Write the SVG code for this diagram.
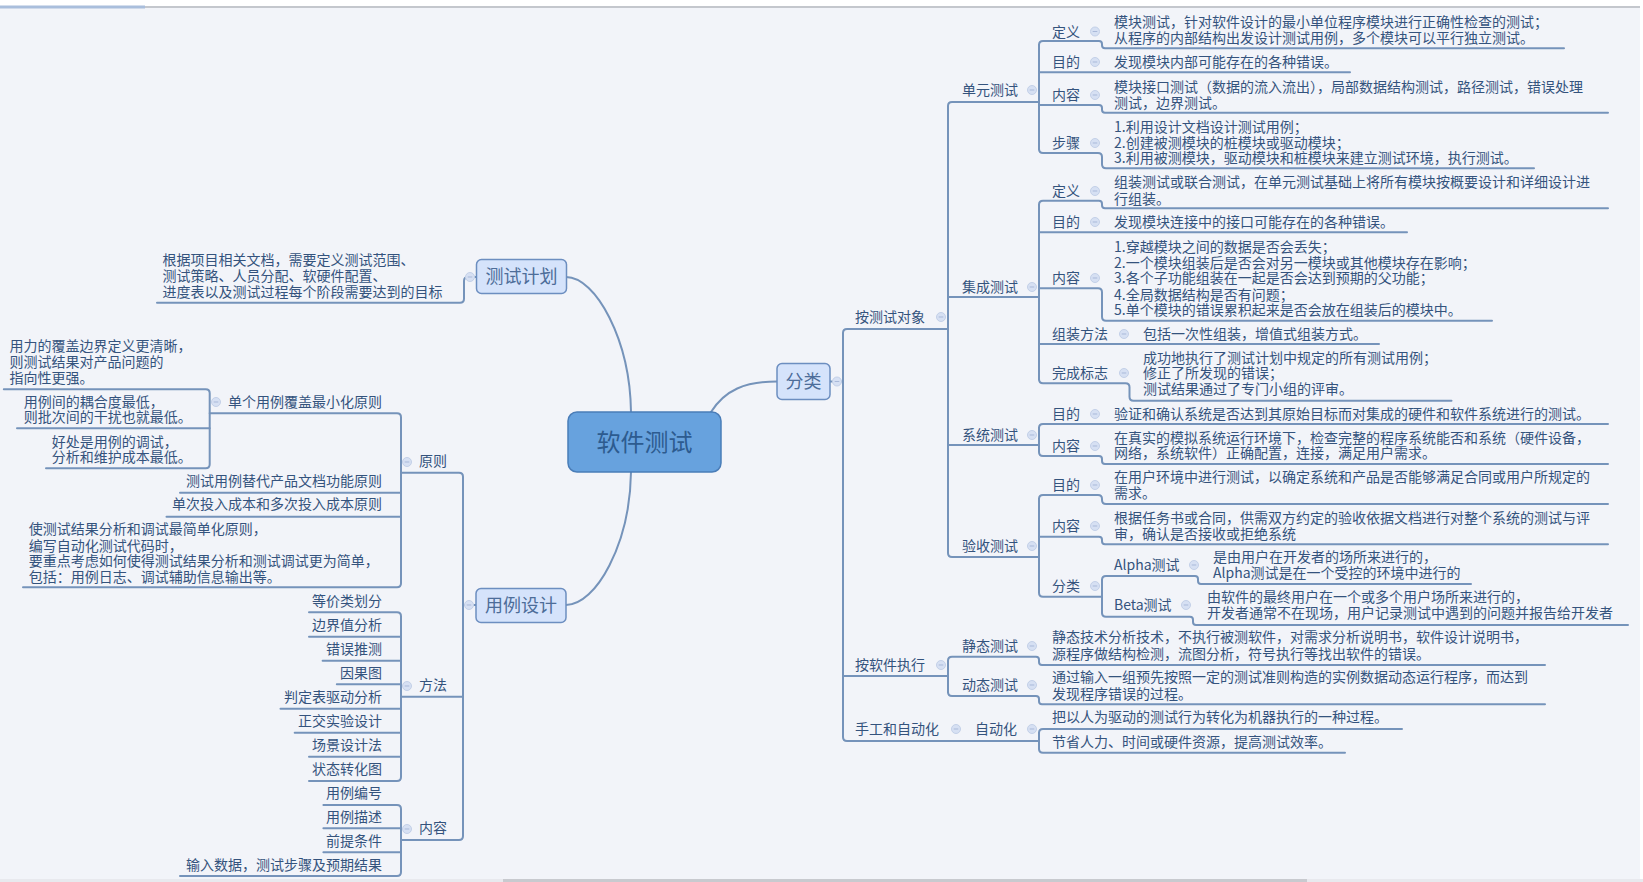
<svg xmlns="http://www.w3.org/2000/svg" width="1643" height="882" viewBox="0 0 1643 882">
<defs>
<style>
.t{font-family:"Noto Sans CJK SC","Liberation Sans",sans-serif;font-size:14px;fill:#34537d;}
.e{text-anchor:end;}
.bt{font-family:"Noto Sans CJK SC","Liberation Sans",sans-serif;font-size:18px;fill:#4d6d99;text-anchor:middle;}
.ln{fill:none;stroke:#7593ba;stroke-width:2;stroke-linecap:round;stroke-linejoin:round;}
.box{fill:#d5e3fb;stroke:#6c8ec0;stroke-width:1.5;}
</style>
<g id="cm"><circle r="4.5" fill="#d6e0f3" stroke="#c3d0e8" stroke-width="1"/><path d="M-2.3,0H2.3" stroke="#a9b9d9" stroke-width="1"/></g>
</defs>
<rect x="0" y="0" width="1643" height="882" fill="#ffffff"/>
<rect x="0" y="8" width="1640" height="871" fill="#f2f4f9"/>
<line x1="145" y1="7" x2="1640" y2="7" stroke="#c4c7cd" stroke-width="2"/>
<line x1="0" y1="7" x2="145" y2="7" stroke="#a9bedc" stroke-width="3"/>
<rect x="0" y="879" width="1643" height="3" fill="#e8e9ee"/>
<rect x="503" y="879" width="804" height="3" fill="#c8cacf"/>

<g id="connectors" class="ln">
<path d="M631,412 C630,340 596,277 566,277"/>
<path d="M631,472 C630,544 596,605 566,605"/>
<path d="M711,412 C725,390 745,381.5 777,381.5"/>
<path d="M830,381.5 H843"/>
<path d="M948,329 H847 Q843,329 843,333 V737 Q843,741 847,741 H1039"/>
<path d="M843,676 H948"/>
<path d="M1039,102 H952 Q948,102 948,106 V553 Q948,557 952,557 H1039"/>
<path d="M948,297 H1039"/>
<path d="M948,445 H1039"/>
<path d="M1039,45 V149"/>
<path d="M1039,45 Q1039,41 1043,41 H1099 Q1102,41 1102,44 V45.3 Q1102,48.3 1105,48.3 H1564"/>
<path d="M1039,72.3 H1350"/>
<path d="M1039,105 H1099 Q1102,105 1102,108 V109.7 Q1102,112.7 1105,112.7 H1608"/>
<path d="M1039,149 Q1039,153 1043,153 H1098 Q1102,153 1102,157 V164.3 Q1102,168.3 1106,168.3 H1534"/>
<path d="M1039,204.7 V379.3"/>
<path d="M1039,204.7 Q1039,200.7 1043,200.7 H1099 Q1102,200.7 1102,203.7 V205.3 Q1102,208.3 1105,208.3 H1608"/>
<path d="M1039,232.3 H1407"/>
<path d="M1039,288.3 H1098 Q1102,288.3 1102,292.3 V316.7 Q1102,320.7 1106,320.7 H1492"/>
<path d="M1039,344 H1379"/>
<path d="M1039,379.3 Q1039,383.3 1043,383.3 H1125.5 Q1129.5,383.3 1129.5,387.3 V396.7 Q1129.5,400.7 1133.5,400.7 H1451.5"/>
<path d="M1039,428 Q1039,424 1043,424 H1608"/>
<path d="M1039,428 V452 Q1039,456 1043,456 H1099 Q1102,456 1102,459 V461 Q1102,464 1105,464 H1608"/>
<path d="M1039,499 Q1039,495 1043,495 H1098 Q1102,495 1102,499 V500 Q1102,504 1106,504 H1608"/>
<path d="M1039,499 V592.7 Q1039,596.7 1043,596.7 H1102"/>
<path d="M1039,536.7 H1099 Q1102,536.7 1102,539.7 V541.3 Q1102,544.3 1105,544.3 H1608"/>
<path d="M1102,580 V612.7"/>
<path d="M1102,580 Q1102,576 1106,576 H1195 Q1198,576 1198,579 V581 Q1198,584 1201,584 H1471"/>
<path d="M1102,612.7 Q1102,616.7 1106,616.7 H1190 Q1193,616.7 1193,619.7 V622 Q1193,625 1196,625 H1628"/>
<path d="M948,660.7 V692"/>
<path d="M948,660.7 Q948,656.7 952,656.7 H1036 Q1039,656.7 1039,659.7 V662 Q1039,665 1042,665 H1545"/>
<path d="M948,692 Q948,696 952,696 H1036 Q1039,696 1039,699 V701.3 Q1039,704.3 1042,704.3 H1545"/>
<path d="M1039,733 V748.7"/>
<path d="M1039,733 Q1039,729 1043,729 H1402"/>
<path d="M1039,748.7 Q1039,752.7 1043,752.7 H1345"/>
<path d="M476,277 H468 Q464,277 464,281 V298.7 Q464,302.7 460,302.7 H157"/>
<path d="M401,472.7 H459 Q463,472.7 463,476.7 V836 Q463,840 459,840 H401"/>
<path d="M463,605 H476"/>
<path d="M401,696.7 H463"/>
<path d="M209.7,413.3 H397 Q401,413.3 401,417.3 V583.3 Q401,587.3 397,587.3 H23"/>
<path d="M180,492.7 H401"/>
<path d="M166.5,516.7 H401"/>
<path d="M3.8,389.3 H205.7 Q209.7,389.3 209.7,393.3 V464.3 Q209.7,468.3 205.7,468.3 H46"/>
<path d="M17,428.3 H209.7"/>
<path d="M309,612.3 H397 Q401,612.3 401,616.3 V777 Q401,781 397,781 H309"/>
<path d="M309,636.7 H401"/>
<path d="M322.6,660.7 H401"/>
<path d="M336.8,684.3 H401"/>
<path d="M280.5,708.7 H401"/>
<path d="M294.7,732.7 H401"/>
<path d="M309,756.7 H401"/>
<path d="M323.4,805 H397 Q401,805 401,809 V872 Q401,876 397,876 H180"/>
<path d="M323.4,828.3 H401"/>
<path d="M323.4,852.3 H401"/>
</g>

<g id="n-root">
<rect x="568" y="412" width="153" height="60" rx="9" fill="#67a2de" stroke="#4a7db8" stroke-width="1.5"/>
<text x="644.5" y="451" font-family="Noto Sans CJK SC, Liberation Sans, sans-serif" font-size="24" fill="#2d5b8f" text-anchor="middle">软件测试</text>
</g>

<g id="n-fenlei">
<rect class="box" x="777" y="363.5" width="53" height="36" rx="5"/>
<text class="bt" x="803.5" y="388" font-size="17">分类</text>
<use href="#cm" x="837" y="381.5"/>
</g>

<g id="n-ancsdx">
<text class="t" x="855" y="322">按测试对象</text><use href="#cm" x="941" y="317"/>
</g>
<g id="n-dycs">
<text class="t" x="962" y="95">单元测试</text><use href="#cm" x="1032" y="90"/>
</g>
<g id="n-dycs-dy">
<text class="t" x="1052" y="37">定义</text><use href="#cm" x="1095" y="31.5"/>
<text class="t"><tspan x="1114" y="26.7">模块测试，针对软件设计的最小单位程序模块进行正确性检查的测试；</tspan><tspan x="1114" y="43.3">从程序的内部结构出发设计测试用例，多个模块可以平行独立测试。</tspan></text>
</g>
<g id="n-dycs-md">
<text class="t" x="1052" y="67">目的</text><use href="#cm" x="1095" y="62"/>
<text class="t" x="1114" y="67">发现模块内部可能存在的各种错误。</text>
</g>
<g id="n-dycs-nr">
<text class="t" x="1052" y="100">内容</text><use href="#cm" x="1095" y="95"/>
<text class="t"><tspan x="1114" y="91.7">模块接口测试（数据的流入流出），局部数据结构测试，路径测试，错误处理</tspan><tspan x="1114" y="108.3">测试，边界测试。</tspan></text>
</g>
<g id="n-dycs-bz">
<text class="t" x="1052" y="148">步骤</text><use href="#cm" x="1095" y="143"/>
<text class="t"><tspan x="1114" y="131.7">1.利用设计文档设计测试用例；</tspan><tspan x="1114" y="147.7">2.创建被测模块的桩模块或驱动模块；</tspan><tspan x="1114" y="163.3">3.利用被测模块，驱动模块和桩模块来建立测试环境，执行测试。</tspan></text>
</g>

<g id="n-jccs">
<text class="t" x="962" y="292">集成测试</text><use href="#cm" x="1032" y="287"/>
</g>
<g id="n-jccs-dy">
<text class="t" x="1052" y="196">定义</text><use href="#cm" x="1095" y="191"/>
<text class="t"><tspan x="1114" y="186.7">组装测试或联合测试，在单元测试基础上将所有模块按概要设计和详细设计进</tspan><tspan x="1114" y="204.3">行组装。</tspan></text>
</g>
<g id="n-jccs-md">
<text class="t" x="1052" y="227">目的</text><use href="#cm" x="1095" y="222"/>
<text class="t" x="1114" y="227">发现模块连接中的接口可能存在的各种错误。</text>
</g>
<g id="n-jccs-nr">
<text class="t" x="1052" y="283">内容</text><use href="#cm" x="1095" y="278"/>
<text class="t"><tspan x="1114" y="251.7">1.穿越模块之间的数据是否会丢失；</tspan><tspan x="1114" y="268.3">2.一个模块组装后是否会对另一模块或其他模块存在影响；</tspan><tspan x="1114" y="283.3">3.各个子功能组装在一起是否会达到预期的父功能；</tspan><tspan x="1114" y="300">4.全局数据结构是否有问题；</tspan><tspan x="1114" y="315">5.单个模块的错误累积起来是否会放在组装后的模块中。</tspan></text>
</g>
<g id="n-jccs-zzff">
<text class="t" x="1052" y="339">组装方法</text><use href="#cm" x="1124" y="334"/>
<text class="t" x="1143" y="339">包括一次性组装，增值式组装方式。</text>
</g>
<g id="n-jccs-wcbz">
<text class="t" x="1052" y="378">完成标志</text><use href="#cm" x="1124" y="373"/>
<text class="t"><tspan x="1143" y="363.3">成功地执行了测试计划中规定的所有测试用例；</tspan><tspan x="1143" y="378.3">修正了所发现的错误；</tspan><tspan x="1143" y="394.3">测试结果通过了专门小组的评审。</tspan></text>
</g>

<g id="n-xtcs">
<text class="t" x="962" y="440">系统测试</text><use href="#cm" x="1032" y="435"/>
</g>
<g id="n-xtcs-md">
<text class="t" x="1052" y="419">目的</text><use href="#cm" x="1095" y="414"/>
<text class="t" x="1114" y="419">验证和确认系统是否达到其原始目标而对集成的硬件和软件系统进行的测试。</text>
</g>
<g id="n-xtcs-nr">
<text class="t" x="1052" y="451">内容</text><use href="#cm" x="1095" y="446"/>
<text class="t"><tspan x="1114" y="443.3">在真实的模拟系统运行环境下，检查完整的程序系统能否和系统（硬件设备，</tspan><tspan x="1114" y="458.3">网络，系统软件）正确配置，连接，满足用户需求。</tspan></text>
</g>

<g id="n-yscs">
<text class="t" x="962" y="551">验收测试</text><use href="#cm" x="1032" y="546"/>
</g>
<g id="n-yscs-md">
<text class="t" x="1052" y="490">目的</text><use href="#cm" x="1095" y="485"/>
<text class="t"><tspan x="1114" y="481.7">在用户环境中进行测试，以确定系统和产品是否能够满足合同或用户所规定的</tspan><tspan x="1114" y="498.3">需求。</tspan></text>
</g>
<g id="n-yscs-nr">
<text class="t" x="1052" y="531">内容</text><use href="#cm" x="1095" y="526"/>
<text class="t"><tspan x="1114" y="523.3">根据任务书或合同，供需双方约定的验收依据文档进行对整个系统的测试与评</tspan><tspan x="1114" y="539">审，确认是否接收或拒绝系统</tspan></text>
</g>
<g id="n-yscs-fl">
<text class="t" x="1052" y="591">分类</text><use href="#cm" x="1095" y="586"/>
</g>
<g id="n-alpha">
<text class="t" x="1114" y="570">Alpha测试</text><use href="#cm" x="1194" y="565"/>
<text class="t"><tspan x="1213" y="561.7">是由用户在开发者的场所来进行的，</tspan><tspan x="1213" y="577.7">Alpha测试是在一个受控的环境中进行的</tspan></text>
</g>
<g id="n-beta">
<text class="t" x="1114" y="610">Beta测试</text><use href="#cm" x="1186" y="605"/>
<text class="t"><tspan x="1207" y="602.3">由软件的最终用户在一个或多个用户场所来进行的，</tspan><tspan x="1207" y="618.3">开发者通常不在现场，用户记录测试中遇到的问题并报告给开发者</tspan></text>
</g>

<g id="n-arjzx">
<text class="t" x="855" y="670">按软件执行</text><use href="#cm" x="941" y="665"/>
</g>
<g id="n-jtcs">
<text class="t" x="962" y="651">静态测试</text><use href="#cm" x="1032" y="646"/>
<text class="t"><tspan x="1052" y="641.7">静态技术分析技术，不执行被测软件，对需求分析说明书，软件设计说明书，</tspan><tspan x="1052" y="659">源程序做结构检测，流图分析，符号执行等找出软件的错误。</tspan></text>
</g>
<g id="n-dtcs">
<text class="t" x="962" y="690">动态测试</text><use href="#cm" x="1032" y="685"/>
<text class="t"><tspan x="1052" y="681.7">通过输入一组预先按照一定的测试准则构造的实例数据动态运行程序，而达到</tspan><tspan x="1052" y="699">发现程序错误的过程。</tspan></text>
</g>

<g id="n-sghzdh">
<text class="t" x="855" y="734">手工和自动化</text><use href="#cm" x="956" y="729"/>
</g>
<g id="n-zdh">
<text class="t" x="975" y="734">自动化</text><use href="#cm" x="1032" y="729"/>
<text class="t" x="1052" y="722.3">把以人为驱动的测试行为转化为机器执行的一种过程。</text>
<text class="t" x="1052" y="746.7">节省人力、时间或硬件资源，提高测试效率。</text>
</g>

<g id="n-csjh">
<rect class="box" x="476.5" y="259.5" width="90" height="34" rx="5"/>
<text class="bt" x="521.5" y="283">测试计划</text>
<use href="#cm" x="470" y="277"/>
<text class="t"><tspan x="162.6" y="265">根据项目相关文档，需要定义测试范围、</tspan><tspan x="162.6" y="281">测试策略、人员分配、软硬件配置、</tspan><tspan x="162.6" y="297">进度表以及测试过程每个阶段需要达到的目标</tspan></text>
</g>

<g id="n-ylsj">
<rect class="box" x="476" y="588.5" width="90" height="34" rx="5"/>
<text class="bt" x="521" y="612">用例设计</text>
<use href="#cm" x="469" y="605"/>
</g>

<g id="n-yz">
<text class="t" x="419" y="466">原则</text><use href="#cm" x="407" y="462"/>
</g>
<g id="n-dgyl">
<text class="t e" x="382" y="406.7">单个用例覆盖最小化原则</text><use href="#cm" x="216" y="402"/>
<text class="t"><tspan x="9.6" y="351">用力的覆盖边界定义更清晰，</tspan><tspan x="9.6" y="366.7">则测试结果对产品问题的</tspan><tspan x="9.6" y="382.7">指向性更强。</tspan></text>
<text class="t"><tspan x="23.7" y="406.7">用例间的耦合度最低，</tspan><tspan x="23.7" y="422.3">则批次间的干扰也就最低。</tspan></text>
<text class="t"><tspan x="51.7" y="446.7">好处是用例的调试，</tspan><tspan x="51.7" y="461.7">分析和维护成本最低。</tspan></text>
</g>
<g id="n-yz2">
<text class="t e" x="382" y="486">测试用例替代产品文档功能原则</text>
</g>
<g id="n-yz3">
<text class="t e" x="382" y="509.3">单次投入成本和多次投入成本原则</text>
</g>
<g id="n-yz4">
<text class="t"><tspan x="28.7" y="534.3">使测试结果分析和调试最简单化原则，</tspan><tspan x="28.7" y="550.7">编写自动化测试代码时，</tspan><tspan x="28.7" y="566">要重点考虑如何使得测试结果分析和测试调试更为简单，</tspan><tspan x="28.7" y="581.7">包括：用例日志、调试辅助信息输出等。</tspan></text>
</g>

<g id="n-ff">
<text class="t" x="419" y="690">方法</text><use href="#cm" x="407" y="686"/>
<text class="t e" x="382" y="605.7">等价类划分</text>
<text class="t e" x="382" y="629.9">边界值分析</text>
<text class="t e" x="382" y="653.9">错误推测</text>
<text class="t e" x="382" y="677.7">因果图</text>
<text class="t e" x="382" y="702">判定表驱动分析</text>
<text class="t e" x="382" y="726">正交实验设计</text>
<text class="t e" x="382" y="750">场景设计法</text>
<text class="t e" x="382" y="774.3">状态转化图</text>
</g>

<g id="n-nr">
<text class="t" x="419" y="833.3">内容</text><use href="#cm" x="407" y="829"/>
<text class="t e" x="382" y="798.3">用例编号</text>
<text class="t e" x="382" y="821.7">用例描述</text>
<text class="t e" x="382" y="845.7">前提条件</text>
<text class="t e" x="382" y="869.5">输入数据，测试步骤及预期结果</text>
</g>
</svg>
